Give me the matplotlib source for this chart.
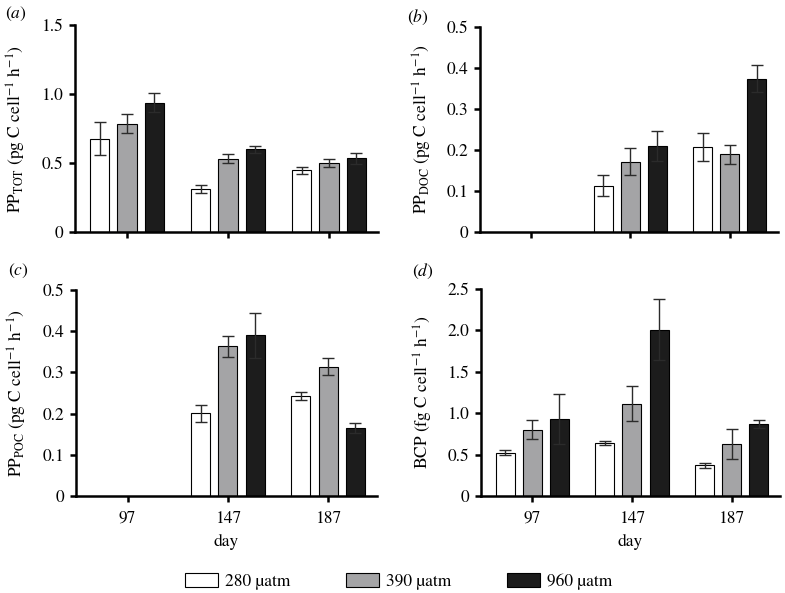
import numpy as np
import matplotlib
matplotlib.use('Agg')
import matplotlib.pyplot as plt
from matplotlib.patches import Patch

# Times-like look: STIX ships with matplotlib
plt.rcParams['font.family'] = ['STIXGeneral', 'DejaVu Serif']
plt.rcParams['mathtext.fontset'] = 'stix'

days = ['97', '147', '187']
co2 = ['280 µatm', '390 µatm', '960 µatm']
nan = np.nan

# (a) PP_TOT
tot_mean = {'280': [0.675, 0.312, 0.448], '390': [0.784, 0.532, 0.501], '960': [0.936, 0.598, 0.535]}
tot_err = {'280': [0.12, 0.03, 0.025], '390': [0.07, 0.034, 0.027], '960': [0.07, 0.025, 0.04]}
# (b) PP_DOC
doc_mean = {'280': [nan, 0.113, 0.207], '390': [nan, 0.171, 0.189], '960': [nan, 0.209, 0.374]}
doc_err = {'280': [nan, 0.025, 0.033], '390': [nan, 0.033, 0.024], '960': [nan, 0.036, 0.032]}
# (c) PP_POC
poc_mean = {'280': [nan, 0.201, 0.243], '390': [nan, 0.363, 0.314], '960': [nan, 0.390, 0.164]}
poc_err = {'280': [nan, 0.021, 0.01], '390': [nan, 0.025, 0.021], '960': [nan, 0.055, 0.012]}
# (d) BCP
bcp_mean = {'280': [0.52, 0.641, 0.371], '390': [0.802, 1.113, 0.625], '960': [0.931, 2.008, 0.871]}
bcp_err = {'280': [0.03, 0.028, 0.028], '390': [0.11, 0.21, 0.18], '960': [0.3, 0.37, 0.045]}

yticks_a = [0, 0.5, 1.0, 1.5]
yticks_b = [0, 0.1, 0.2, 0.3, 0.4, 0.5]
yticks_d = [0, 0.5, 1.0, 1.5, 2.0, 2.5]

colors = ['white', '#a4a4a6', '#1c1c1c']
keys = ['280', '390', '960']
fs = 12.5

fig = plt.figure(figsize=(7.85, 5.93), dpi=100)
axes_pos = {
    'a': [0.0955, 0.6088, 0.386, 0.349],
    'b': [0.6115, 0.6088, 0.3795, 0.346],
    'c': [0.0968, 0.1636, 0.3832, 0.3474],
    'd': [0.6127, 0.1636, 0.3809, 0.349],
}
panels = [
    ('a', tot_mean, tot_err, yticks_a, r'PP$_{\mathrm{TOT}}$ (pg C cell$^{-1}$ h$^{-1}$)'),
    ('b', doc_mean, doc_err, yticks_b, r'PP$_{\mathrm{DOC}}$ (pg C cell$^{-1}$ h$^{-1}$)'),
    ('c', poc_mean, poc_err, yticks_b, r'PP$_{\mathrm{POC}}$ (pg C cell$^{-1}$ h$^{-1}$)'),
    ('d', bcp_mean, bcp_err, yticks_d, r'BCP (fg C cell$^{-1}$ h$^{-1}$)'),
]
label_xy = {'a': (0.006, 0.992), 'b': (0.518, 0.987), 'c': (0.010, 0.558), 'd': (0.525, 0.558)}

x = np.arange(len(days))
width = 0.19
offsets = [-0.272, 0.0, 0.272]

for name, means, errs, yt, ylab in panels:
    ax = fig.add_axes(axes_pos[name])
    for k, c, off in zip(keys, colors, offsets):
        m = np.array(means[k], dtype=float)
        e = np.array(errs[k], dtype=float)
        ax.bar(x + off, m, width, color=c, edgecolor='black', linewidth=0.8, zorder=2)
        ax.errorbar(x + off, m, yerr=e, fmt='none', ecolor='#2b2b2b', elinewidth=1.0,
                    capsize=4.3, capthick=1.0, zorder=3)
    ax.set_xlim(-0.515, 2.485)
    ax.set_ylim(0, yt[-1])
    ax.set_yticks(yt)
    ax.set_yticklabels(['0'] + ['%.1f' % v for v in yt[1:]])
    ax.set_xticks(x)
    if name in ('c', 'd'):
        ax.set_xticklabels(days)
        ax.set_xlabel('day', fontsize=fs, labelpad=5)
    else:
        ax.set_xticklabels([])
    ax.set_ylabel(ylab, fontsize=fs)
    ax.yaxis.set_label_coords(-0.155, 0.5)
    for s in ['top', 'right']:
        ax.spines[s].set_visible(False)
    for s in ['left', 'bottom']:
        ax.spines[s].set_linewidth(1.8)
    ax.tick_params(width=1.8, length=4.5, labelsize=fs)
    ax.tick_params(axis='y', pad=4)
    ax.tick_params(axis='x', pad=6)
    fig.text(label_xy[name][0], label_xy[name][1], r'($\mathit{%s}$)' % name,
             fontsize=fs, va='top', ha='left')

handles = [Patch(facecolor=c, edgecolor='black', linewidth=0.8) for c in colors]
fig.legend(handles, co2, loc='center', bbox_to_anchor=(0.508, 0.019), ncol=3,
           frameon=False, fontsize=fs, handlelength=1.9, handleheight=0.85,
           handletextpad=0.4, columnspacing=3.2, borderaxespad=0)

fig.savefig('out.png', dpi=100)
